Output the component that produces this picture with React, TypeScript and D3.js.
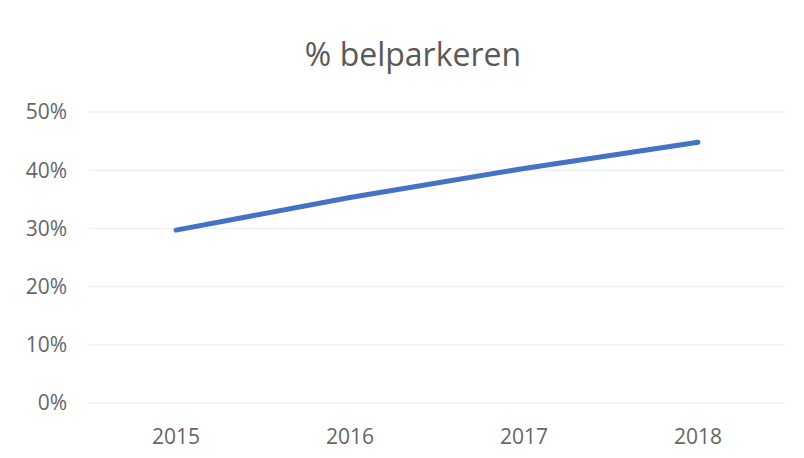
import React from "react";
import * as d3 from "d3";

const categories = ["2015", "2016", "2017", "2018"];
const values = [29.7, 35.3, 40.3, 44.8];
const yTicks = [0, 10, 20, 30, 40, 50];
const title = "% belparkeren";

export default function App() {
  const W = 804, H = 458;
  const x = d3.scaleBand<string>().domain(categories).range([89, 785]);
  const y = d3.scaleLinear().domain([0, 50]).range([403, 112]);
  const line = d3
    .line<number>()
    .x((_, i) => (x(categories[i]) as number) + x.bandwidth() / 2)
    .y((d) => y(d));
  const font = "'Open Sans', 'Liberation Sans', sans-serif";
  return (
    <svg
      width={W}
      height={H}
      style={{ position: "absolute", left: 0, top: 0, background: "#fff" }}
      fontFamily={font}
    >
      <rect x={0} y={0} width={W} height={H} fill="#fff" />
      <text x={413} y={66} textAnchor="middle" fontSize={32} fill="#595959">
        {title}
      </text>
      {yTicks.map((t) => (
        <g key={t}>
          <line x1={89} x2={785} y1={y(t)} y2={y(t)} stroke="#edf1f3" strokeWidth={1.5} />
          <text
            x={67}
            y={y(t)}
            dy="0.35em"
            textAnchor="end"
            fontSize={21}
            fill="#666"
          >
            {t + "%"}
          </text>
        </g>
      ))}
      {categories.map((c) => (
        <text
          key={c}
          x={(x(c) as number) + x.bandwidth() / 2}
          y={444}
          textAnchor="middle"
          fontSize={21}
          fill="#666"
        >
          {c}
        </text>
      ))}
      <path
        d={line(values) || ""}
        fill="none"
        stroke="#4472c4"
        strokeWidth={5}
        strokeLinecap="round"
      />
    </svg>
  );
}
